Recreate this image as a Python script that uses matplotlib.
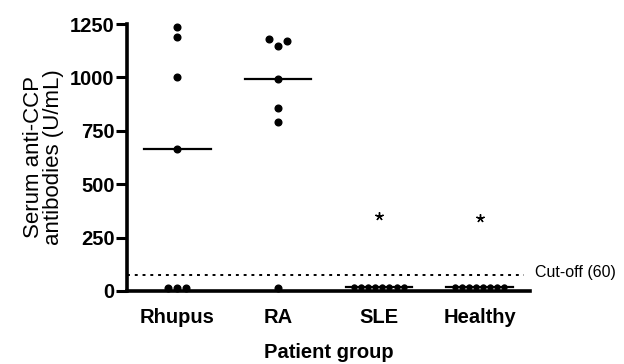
import matplotlib
matplotlib.use("Agg")
import matplotlib.pyplot as plt
import numpy as np

plt.rcParams['font.family'] = ['Liberation Sans', 'DejaVu Sans']

categories = ["Rhupus", "RA", "SLE", "Healthy"]
rhupus = [1237, 1188, 1000, 666, 15, 15, 15]
ra = [1180, 1148, 1169, 993, 855, 793, 15]
sle = [17, 17, 17, 17, 17, 17, 17, 17]
healthy = [17, 17, 17, 17, 17, 17, 17, 17]
groups = [rhupus, ra, sle, healthy]
medians = [666, 993, 17, 17]
star_values = [None, None, 351, 343]
cutoff = 75
yticks = [0, 250, 500, 750, 1000, 1250]

fig = plt.figure(figsize=(6.24, 3.64), dpi=100)
ax = fig.add_axes([127/624, 73/364, 403/624, 267/364])

def offsets(vals, step):
    offs = np.zeros(len(vals))
    clusters = []
    cur = [0]
    for i in range(1, len(vals)):
        if abs(vals[i] - vals[i-1]) < 40:
            cur.append(i)
        else:
            clusters.append(cur)
            cur = [i]
    clusters.append(cur)
    for c in clusters:
        n = len(c)
        for k, idx in enumerate(c):
            offs[idx] = (k - (n - 1) / 2) * step
    return offs

for i, vals in enumerate(groups):
    small = len(vals) >= 8
    step = 0.07 if small else 0.09
    ms = 3.6 if small else 4.8
    xs = i + offsets(vals, step)
    ax.plot(xs, vals, 'o', color='black', ms=ms, clip_on=False, zorder=3)
    ax.plot([i - 0.33, i + 0.33], [medians[i], medians[i]], color='black', lw=1.6,
            clip_on=False, zorder=2)
    if star_values[i] is not None:
        ax.plot(i, star_values[i], marker=(5, 2, 0), color='black', ms=6, mew=1.0)

ax.plot([-0.5, 3.44], [cutoff, cutoff], linestyle=(0, (1.5, 2.5)), color='black', lw=1.4,
        clip_on=False)
ax.text(3.55, cutoff + 10, "Cut-off (60)", fontsize=11.5, va='center', ha='left')

ax.set_xlim(-0.5, 3.5)
ax.set_ylim(0, 1250)
ax.set_xticks(range(len(categories)))
ax.set_xticklabels(categories, fontsize=14.5, fontweight='bold')
ax.set_yticks(yticks)
ax.set_yticklabels([str(t) for t in yticks], fontsize=14.5, fontweight='bold')
ax.tick_params(axis='x', length=0, pad=12)
ax.tick_params(axis='y', length=8, width=2.2, pad=1)
for s in ['top', 'right']:
    ax.spines[s].set_visible(False)
for s in ['left', 'bottom']:
    ax.spines[s].set_linewidth(2.6)
ax.set_xlabel("Patient group", fontsize=14.5, fontweight='bold', labelpad=12)
ax.set_ylabel("Serum anti-CCP\nantibodies (U/mL)", fontsize=16, labelpad=4, linespacing=0.95)

fig.savefig("out.png", dpi=100)
